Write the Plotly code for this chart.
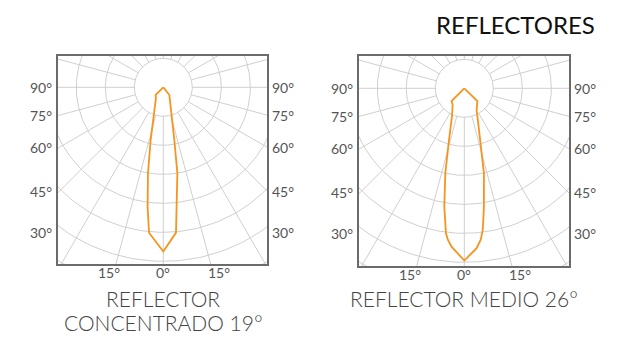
import numpy as np
import plotly.graph_objects as go

W, H = 622, 337

# --- data (gamma in degrees from nadir, intensity in ring units) ---
conc_gamma_l = [0, 5.6, 7.5, 10.1, 13.5, 18.8, 33.7, 45, 90]
conc_int_l = [5.66, 5.04, 4.15, 3.01, 1.87, 1.07, 0.46, 0.37, 0]
conc_gamma_r = [0, 5.0, 6.5, 9.3, 11.8, 15.9, 31.2, 38, 90]
conc_int_r = [5.66, 5.03, 4.14, 3.00, 1.86, 1.05, 0.44, 0.34, 0]

medio_gamma_l = [0, 4.6, 6.2, 7.2, 8.4, 9.6, 12.6, 16.5, 23.5, 35, 45, 90]
medio_int_l = [5.94, 5.48, 5.25, 5.04, 4.6, 4.14, 3.00, 1.86, 1.07, 0.70, 0.62, 0]
medio_gamma_r = [0, 4.4, 6.2, 7.4, 8.3, 9.4, 13.0, 17.5, 23.0, 29.6, 45.7, 90]
medio_int_r = [5.94, 5.53, 5.25, 4.93, 4.55, 4.14, 3.01, 1.87, 1.20, 0.86, 0.63, 0]

side_labels = ["90°", "75°", "60°", "45°", "30°"]
side_label_pos = [0, -0.97, -2.06, -3.6, -5.0]
bottom_labels = ["15°", "0°", "15°"]
bottom_label_pos = [-1.86, 0, 1.92]

title_lines = [["REFLECTOR", "CONCENTRADO 19°"], ["REFLECTOR MEDIO 26°"]]

ring_radii = [1, 2, 3, 4, 5, 6, 7, 8]
spoke_angles = list(range(0, 360, 15))

ORANGE = "#F7941D"
GRID = "#cfcfcf"
FRAME = "#6b6b6b"
LABEL = "#555555"
U = 29.0  # px per ring

# panel boxes in px: left, right, top, bottom, centre x, centre y
panels = [
    dict(l=58, r=267, t=55.7, b=264.3, cx=163.3, cy=87.3),
    dict(l=359, r=569.3, t=56, b=266, cx=464.3, cy=88.3),
]


def curve_xy(g_l, i_l, g_r, i_r):
    gl = np.radians(g_l)
    gr = np.radians(g_r)
    xl = -np.array(i_l) * np.sin(gl)
    yl = -np.array(i_l) * np.cos(gl)
    xr = np.array(i_r) * np.sin(gr)
    yr = -np.array(i_r) * np.cos(gr)
    # left side from top to bottom, then right side back up
    x = np.concatenate([xl[::-1], xr])
    y = np.concatenate([yl[::-1], yr])
    return x, y


def grid_xy():
    xs, ys = [], []
    t = np.linspace(0, 2 * np.pi, 240)
    for r in ring_radii:
        xs += list(r * np.cos(t)) + [None]
        ys += list(r * np.sin(t)) + [None]
    for a in spoke_angles:
        ar = np.radians(a)
        xs += [np.cos(ar) * 1, np.cos(ar) * 10, None]
        ys += [np.sin(ar) * 1, np.sin(ar) * 10, None]
    return xs, ys


curves = [
    curve_xy(conc_gamma_l, conc_int_l, conc_gamma_r, conc_int_r),
    curve_xy(medio_gamma_l, medio_int_l, medio_gamma_r, medio_int_r),
]

fig = go.Figure()
gx, gy = grid_xy()
annotations = []
for k, p in enumerate(panels):
    xa = "x" if k == 0 else "x2"
    ya = "y" if k == 0 else "y2"
    fig.add_trace(go.Scatter(x=gx, y=gy, mode="lines", line=dict(color=GRID, width=1),
                             hoverinfo="skip", xaxis=xa, yaxis=ya, showlegend=False))
    cx_, cy_ = curves[k]
    fig.add_trace(go.Scatter(x=cx_, y=cy_, mode="lines", line=dict(color=ORANGE, width=1.8),
                             xaxis=xa, yaxis=ya, showlegend=False))

    xr = [(p["l"] - p["cx"]) / U, (p["r"] - p["cx"]) / U]
    yr = [-(p["b"] - p["cy"]) / U, (p["cy"] - p["t"]) / U]
    axis_common = dict(showgrid=False, zeroline=False, showticklabels=False, ticks="",
                       showline=True, mirror=True, linecolor=FRAME, linewidth=2, fixedrange=True)
    fig.update_layout(**{
        ("xaxis" if k == 0 else "xaxis2"): dict(domain=[p["l"] / W, p["r"] / W], range=xr,
                                                anchor=ya, **axis_common),
        ("yaxis" if k == 0 else "yaxis2"): dict(domain=[1 - p["b"] / H, 1 - p["t"] / H], range=yr,
                                                anchor=xa, **axis_common),
    })

    lab_font = dict(family="Lato, sans-serif", size=14, color=LABEL)
    for txt, yv in zip(side_labels, side_label_pos):
        annotations.append(dict(x=xr[0], y=yv, xref=xa, yref=ya, text=txt, showarrow=False,
                                xanchor="right", yanchor="middle", xshift=-4, font=lab_font))
        annotations.append(dict(x=xr[1], y=yv, xref=xa, yref=ya, text=txt, showarrow=False,
                                xanchor="left", yanchor="middle", xshift=3, font=lab_font))
    for txt, xv in zip(bottom_labels, bottom_label_pos):
        annotations.append(dict(x=xv, y=yr[0], xref=xa, yref=ya, text=txt, showarrow=False,
                                xanchor="center", yanchor="middle", yshift=-8, font=lab_font))

    # panel caption, one annotation per line (bottom of each line box in px)
    for line_txt, bottom_px in zip(title_lines[k], [313, 337]):
        annotations.append(dict(x=p["cx"] / W, y=1 - bottom_px / H, xref="paper", yref="paper",
                                text=line_txt, showarrow=False, xanchor="center",
                                yanchor="bottom",
                                font=dict(family="Lato, sans-serif", size=21, color="#444",
                                          weight=300)))

annotations.append(dict(x=597 / W, y=1 - 24 / H, xref="paper", yref="paper", text="REFLECTORES",
                        showarrow=False, xanchor="right", yanchor="middle",
                        font=dict(family="Lato, sans-serif", size=24, color="#111")))

fig.update_layout(width=W, height=H, margin=dict(l=0, r=0, t=0, b=0),
                  paper_bgcolor="white", plot_bgcolor="white",
                  annotations=annotations, showlegend=False)

fig.write_html("out.html", config={"displayModeBar": False},
               post_script="document.body.style.margin='0';")
